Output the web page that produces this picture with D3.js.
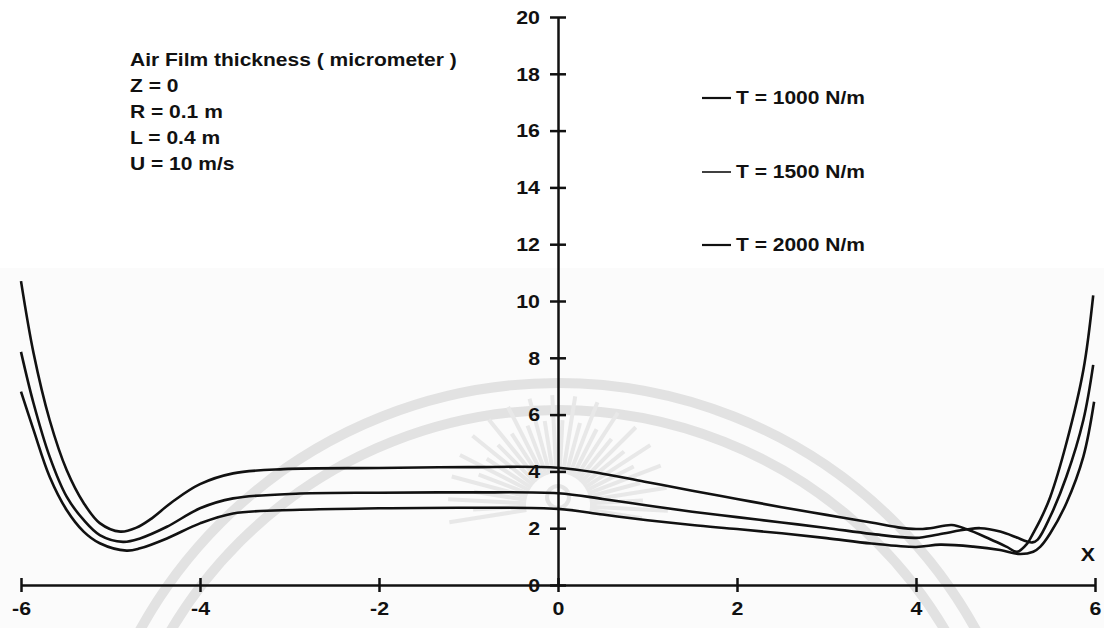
<!DOCTYPE html>
<html>
<head>
<meta charset="utf-8">
<script src="https://cdn.jsdelivr.net/npm/d3@7"></script>
<style>
  body { margin: 0; background: #fff; }
  svg { display: block; }
  text { font-family: "Liberation Sans", Arial, sans-serif; font-weight: bold; fill: #111; }
</style>
</head>
<body>
<svg id="chart" width="1104" height="628"></svg>
<script>
// Axis ticks
const xTicks = [-6, -4, -2, 0, 2, 4, 6];
const yTicks = [0, 2, 4, 6, 8, 10, 12, 14, 16, 18, 20];

// Annotation block and legend labels
const infoLines = ["Air Film thickness ( micrometer )", "Z = 0", "R = 0.1 m", "L = 0.4 m", "U = 10 m/s"];
const seriesNames = ["T = 1000 N/m", "T = 1500 N/m", "T = 2000 N/m"];

// Air film thickness (micrometer) along X for each web tension
const t1000X = [-6, -5.86, -5.68, -5.49, -5.3, -5.12, -4.89, -4.71, -4.56, -4.3, -4.0, -3.63, -3.07, -2.0, -1.0, 0, 0.5, 1.0, 1.5, 2.0, 2.5, 3.0, 3.5, 3.8, 4.0, 4.16, 4.4, 4.57, 4.83, 5.01, 5.13, 5.24, 5.31, 5.39, 5.5, 5.68, 5.87, 5.98];
const t1000Y = [10.7, 8.17, 5.81, 4.05, 2.89, 2.18, 1.88, 2.02, 2.3, 2.95, 3.55, 3.93, 4.08, 4.12, 4.15, 4.13, 3.92, 3.62, 3.32, 3.03, 2.74, 2.47, 2.2, 2.03, 1.97, 2.0, 2.11, 1.96, 1.61, 1.35, 1.17, 1.45, 1.83, 2.3, 3.1, 4.99, 7.57, 10.2];

const t1500X = [-6, -5.86, -5.68, -5.49, -5.3, -5.12, -4.86, -4.67, -4.37, -4.0, -3.63, -2.88, -2.0, -1.0, 0, 0.5, 1.0, 1.5, 2.0, 2.5, 3.0, 3.5, 4.0, 4.25, 4.57, 4.72, 4.94, 5.12, 5.24, 5.3, 5.36, 5.5, 5.68, 5.87, 5.98];
const t1500Y = [8.21, 6.4, 4.52, 3.11, 2.29, 1.76, 1.52, 1.64, 2.05, 2.7, 3.05, 3.22, 3.25, 3.26, 3.23, 3.03, 2.8, 2.58, 2.39, 2.2, 2.01, 1.8, 1.66, 1.78, 1.96, 2.0, 1.88, 1.68, 1.53, 1.5, 1.6, 2.41, 3.81, 5.81, 7.75];

const t2000X = [-6, -5.86, -5.68, -5.49, -5.3, -5.12, -4.82, -4.67, -4.37, -4.0, -3.63, -2.88, -2.0, -1.0, 0, 0.5, 1.0, 1.5, 2.0, 2.5, 3.0, 3.5, 4.0, 4.27, 4.64, 4.94, 5.16, 5.31, 5.39, 5.5, 5.68, 5.87, 5.99];
const t2000Y = [6.81, 5.46, 3.81, 2.64, 1.88, 1.47, 1.21, 1.29, 1.64, 2.17, 2.52, 2.65, 2.7, 2.72, 2.68, 2.48, 2.28, 2.11, 1.97, 1.82, 1.65, 1.46, 1.34, 1.42, 1.35, 1.23, 1.09, 1.17, 1.35, 1.82, 2.88, 4.52, 6.45];

const series = [
  { name: seriesNames[0], xs: t1000X, ys: t1000Y },
  { name: seriesNames[1], xs: t1500X, ys: t1500Y },
  { name: seriesNames[2], xs: t2000X, ys: t2000Y }
];

const W = 1104, H = 628;
const INK = "#111";
const STRETCH = 1.22;   // wide lettering
const FS = 17.5;

const svg = d3.select("#chart");
const x = d3.scaleLinear().domain([-6, 6]).range([21, 1095]);
const y = d3.scaleLinear().domain([0, 20]).range([585, 17]);

// widen each text horizontally by a fixed factor
function widen(sel, k) {
  sel.each(function () {
    const len = this.getComputedTextLength();
    d3.select(this).attr("textLength", len * k).attr("lengthAdjust", "spacingAndGlyphs");
  });
}

// paper background
svg.append("rect").attr("width", W).attr("height", H).attr("fill", "#fff");
svg.append("rect").attr("y", 268).attr("width", W).attr("height", H - 268).attr("fill", "#fbfbfb");

// faint seal behind the plot
const seal = svg.append("g").attr("fill", "none").attr("stroke", "#e2e2e2");
const sealCx = x(0), sealCy = 860;
[477, 450].forEach(r => {
  seal.append("circle").attr("cx", sealCx).attr("cy", sealCy).attr("r", r).attr("stroke-width", 10);
});
const rayCx = x(0), rayCy = 505;
d3.range(0, 34).forEach(i => {
  const a = Math.PI * (0.95 + i * 1.1 / 33);
  const r0 = 32, r1 = i % 2 ? 85 : 110;
  seal.append("line")
    .attr("x1", rayCx + r0 * Math.cos(a)).attr("y1", rayCy + r0 * Math.sin(a))
    .attr("x2", rayCx + r1 * Math.cos(a)).attr("y2", rayCy + r1 * Math.sin(a))
    .attr("stroke", "#e8e8e8").attr("stroke-width", 4);
});
seal.append("circle").attr("cx", rayCx).attr("cy", rayCy - 8).attr("r", 11).attr("stroke", "#e4e4e4").attr("stroke-width", 4);

// X axis
const xAxis = svg.append("g")
  .attr("transform", `translate(0,${y(0)})`)
  .call(d3.axisBottom(x).tickValues(xTicks).tickSizeOuter(0).tickFormat(d3.format("d")));
xAxis.select(".domain").attr("stroke", INK).attr("stroke-width", 2.5);
xAxis.selectAll(".tick line").attr("y1", -7).attr("y2", 7).attr("stroke", INK).attr("stroke-width", 2.5);
xAxis.selectAll(".tick text").attr("y", 30).attr("dy", 0).attr("font-size", FS).attr("fill", INK)
  .text(d => d < 0 ? "-" + Math.abs(d) : d);
widen(xAxis.selectAll(".tick text"), STRETCH);

// Y axis
const yAxis = svg.append("g")
  .attr("transform", `translate(${x(0)},0)`)
  .call(d3.axisLeft(y).tickValues(yTicks).tickSizeOuter(0).tickFormat(d3.format("d")));
yAxis.select(".domain").attr("stroke", INK).attr("stroke-width", 2.5);
yAxis.selectAll(".tick line").attr("x1", -8).attr("x2", 8).attr("stroke", INK).attr("stroke-width", 2.5);
yAxis.selectAll(".tick text").attr("x", -18).attr("dy", "0.36em").attr("font-size", FS).attr("fill", INK);
widen(yAxis.selectAll(".tick text"), STRETCH);

// axis name
const xName = svg.append("text").attr("x", x(5.92)).attr("y", y(0) - 24)
  .attr("text-anchor", "middle").attr("font-size", FS).text("X");
widen(xName, STRETCH);

// curves
const line = d3.line()
  .x(d => x(d[0]))
  .y(d => y(d[1]))
  .curve(d3.curveCatmullRom.alpha(0.5));

svg.append("g").selectAll("path")
  .data(series)
  .join("path")
  .attr("d", s => line(s.xs.map((v, i) => [v, s.ys[i]])))
  .attr("fill", "none")
  .attr("stroke", INK)
  .attr("stroke-width", 2.6)
  .attr("stroke-linejoin", "round");

// annotation block
const info = svg.append("g");
info.selectAll("text")
  .data(infoLines)
  .join("text")
  .attr("x", 130)
  .attr("y", (d, i) => 66 + i * 26)
  .attr("font-size", FS)
  .text(d => d);
widen(info.selectAll("text"), 1.2);

// legend
const legendRows = [98, 172, 245];
const legend = svg.append("g").selectAll("g")
  .data(series)
  .join("g")
  .attr("transform", (d, i) => `translate(702,${legendRows[i]})`);
legend.append("line").attr("x1", 0).attr("x2", 29).attr("y1", 0).attr("y2", 0)
  .attr("stroke", INK).attr("stroke-width", (d, i) => i === 1 ? 1.6 : 2.2);
legend.append("text").attr("x", 34).attr("dy", "0.36em").attr("font-size", FS).text(d => d.name);
widen(legend.selectAll("text"), 1.2);
</script>
</body>
</html>
